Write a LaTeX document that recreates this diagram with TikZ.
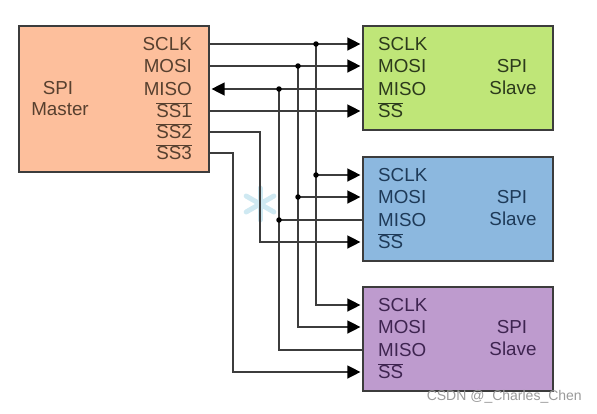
\documentclass[tikz,border=0pt]{standalone}
\usepackage{fontspec}
\setmainfont{Liberation Sans}
\usetikzlibrary{arrows.meta,positioning,calc}
\definecolor{Ink}{HTML}{3C3C3C}
\definecolor{Master}{HTML}{FDBF9C}
\definecolor{SlaveA}{HTML}{BFE678}
\definecolor{SlaveB}{HTML}{8CB8DF}
\definecolor{SlaveC}{HTML}{BE9BCE}
\definecolor{MasterText}{HTML}{57402F}
\definecolor{SlaveAText}{HTML}{2C3A1C}
\definecolor{SlaveBText}{HTML}{1E3A58}
\definecolor{SlaveCText}{HTML}{3E2450}
\definecolor{Flake}{HTML}{CFE9F2}
\definecolor{Mark}{HTML}{9A9A9A}
\tikzset{
  chip/.style={draw=Ink, line width=1.2pt, minimum width=190pt, inner sep=0pt},
  pin/.style={font=\fontsize{18.8}{21}\selectfont, inner sep=0pt, text height=13pt, text depth=0pt},
  wire/.style={draw=Ink, line width=1.4pt},
  feed/.style={wire, -{Triangle[length=13pt,width=13pt,black]}, shorten >=2pt},
  junction/.style={circle, fill=black, minimum size=5.5pt, inner sep=0pt}
}
\begin{document}
\begin{tikzpicture}[x=1pt,y=-1pt]
  \useasboundingbox (0,0) rectangle (597,413);

  % faint mark on the page
  \foreach \a in {30,90,150} {
    \draw[Flake, line width=5pt, line cap=round] (260,204) ++(\a:16) -- ++(\a+180:32);
  }

  % master
  \node[chip, fill=Master, minimum height=146pt] (master) at (114,99) {};
  \node[pin, text=MasterText, anchor=east] (msclk) at (192,44) {SCLK};
  \node[pin, text=MasterText, anchor=east] (mmosi) at (192,66) {MOSI};
  \node[pin, text=MasterText, anchor=east] (mmiso) at (192,89) {MISO};
  \node[pin, text=MasterText, anchor=east] (mssa) at (192,111) {$\overline{\hbox{SS1}}$};
  \node[pin, text=MasterText, anchor=east] (mssb) at (192,132) {$\overline{\hbox{SS2}}$};
  \node[pin, text=MasterText, anchor=east] (mssc) at (192,153) {$\overline{\hbox{SS3}}$};
  \node[pin, text=MasterText] (mspi) at (58,88) {SPI};
  \node[pin, text=MasterText] (mname) at (60,109) {Master};

  % slaves
  \foreach \s/\yy/\tone in {a/78/SlaveA, b/209/SlaveB, c/339/SlaveC} {
    \node[chip, fill=\tone, minimum height=104pt] (slave\s) at (458,\yy) {};
    \node[pin, text=\tone Text, anchor=west] (\s sclk) at (378,\yy-34) {SCLK};
    \node[pin, text=\tone Text, anchor=west] (\s mosi) at (378,\yy-12) {MOSI};
    \node[pin, text=\tone Text, anchor=west] (\s miso) at (378,\yy+11) {MISO};
    \node[pin, text=\tone Text, anchor=west] (\s ss) at (378,\yy+33) {$\overline{\hbox{SS}}$};
    \node[pin, text=\tone Text] (\s spi) at (512,\yy-12) {SPI};
    \node[pin, text=\tone Text] (\s name) at (513,\yy+10) {Slave};
  }

  % bus lines
  \coordinate (busclk) at (316,44);
  \coordinate (busmosi) at (298,66);
  \coordinate (busmiso) at (279,89);

  \draw[feed] (msclk -| master.east) -- (asclk -| slavea.west);
  \draw[feed] (mmosi -| master.east) -- (amosi -| slavea.west);
  \draw[wire] (amiso -| slavea.west) -- (busmiso);
  \draw[feed] (busmiso) -- (mmiso -| master.east);
  \draw[feed] (mssa -| master.east) -- (ass -| slavea.west);

  \draw[feed] (busclk) |- (bsclk -| slaveb.west);
  \draw[feed] (busmosi) |- (bmosi -| slaveb.west);
  \draw[wire] (busmiso) |- (bmiso -| slaveb.west);
  \draw[feed] (mssb -| master.east) -| (260,170) |- (bss -| slaveb.west);

  \draw[feed] (busclk) |- (csclk -| slavec.west);
  \draw[feed] (busmosi) |- (cmosi -| slavec.west);
  \draw[wire] (busmiso) |- (cmiso -| slavec.west);
  \draw[feed] (mssc -| master.east) -| (233,250) |- (css -| slavec.west);

  \node[junction] (jclka) at (busclk) {};
  \node[junction] (jmosia) at (busmosi) {};
  \node[junction] (jmisoa) at (busmiso) {};
  \node[junction] (jclkb) at (bsclk -| busclk) {};
  \node[junction] (jmosib) at (bmosi -| busmosi) {};
  \node[junction] (jmisob) at (bmiso -| busmiso) {};

  \node[font=\fontsize{14}{16}\selectfont, text=Mark, inner sep=0pt, anchor=east] (mark) at (582,397) {CSDN @\_Charles\_Chen};
\end{tikzpicture}
\end{document}
